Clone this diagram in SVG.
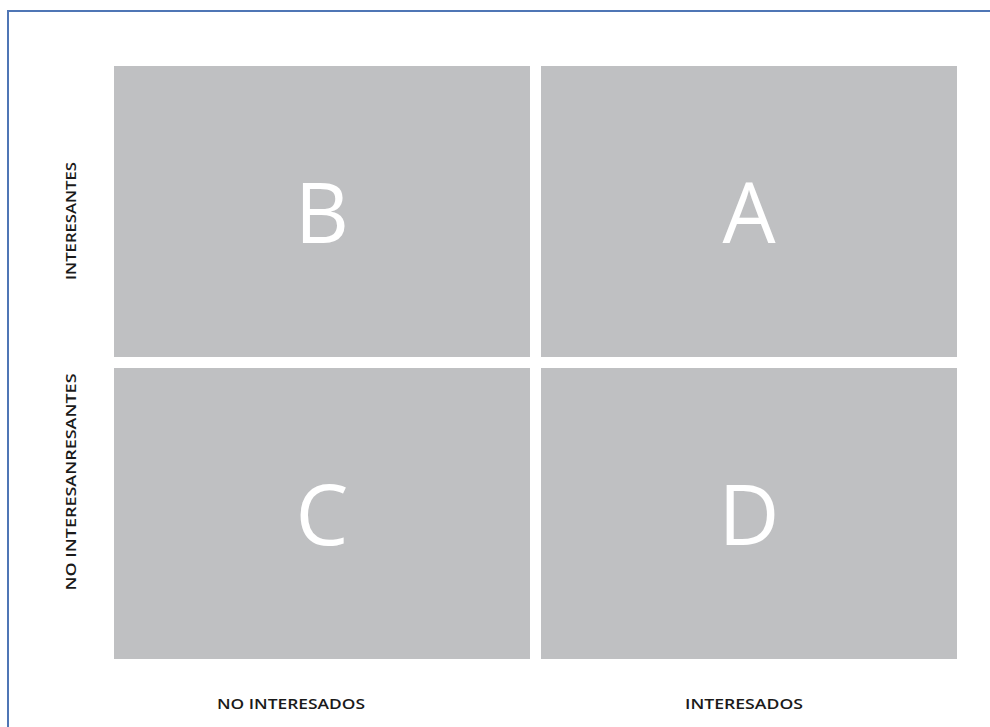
<svg xmlns="http://www.w3.org/2000/svg" width="990" height="727" viewBox="0 0 990 727">
<style>
.cell{fill:#bfc0c2}
.big{font-family:"Open Sans","Liberation Sans",sans-serif;font-size:84px;fill:#ffffff;text-anchor:middle}
.lab{font-family:"Open Sans","Liberation Sans",sans-serif;font-size:15px;font-weight:600;fill:#1a1a1a;text-anchor:middle}
</style>
<rect x="0" y="0" width="990" height="727" fill="#ffffff"/>
<rect x="8" y="11" width="990" height="730" fill="none" stroke="#4f76b5" stroke-width="2"/>
<g id="cell-B"><rect class="cell" x="114" y="66" width="416" height="291"/><text class="big" x="322" y="243">B</text></g>
<g id="cell-A"><rect class="cell" x="541" y="66" width="416" height="291"/><text class="big" x="749" y="243">A</text></g>
<g id="cell-C"><rect class="cell" x="114" y="368" width="416" height="291"/><text class="big" x="322" y="545">C</text></g>
<g id="cell-D"><rect class="cell" x="541" y="368" width="416" height="291"/><text class="big" x="749" y="545">D</text></g>
<g id="labels">
<text class="lab" x="291" y="709" textLength="148" lengthAdjust="spacingAndGlyphs">NO INTERESADOS</text>
<text class="lab" x="744" y="709" textLength="118" lengthAdjust="spacingAndGlyphs">INTERESADOS</text>
<text class="lab" transform="translate(76,221) rotate(-90)" textLength="118" lengthAdjust="spacingAndGlyphs">INTERESANTES</text>
<text class="lab" transform="translate(76,482) rotate(-90)" textLength="217" lengthAdjust="spacingAndGlyphs">NO INTERESANRESANTES</text>
</g>
<g id="connectors"></g>
</svg>
